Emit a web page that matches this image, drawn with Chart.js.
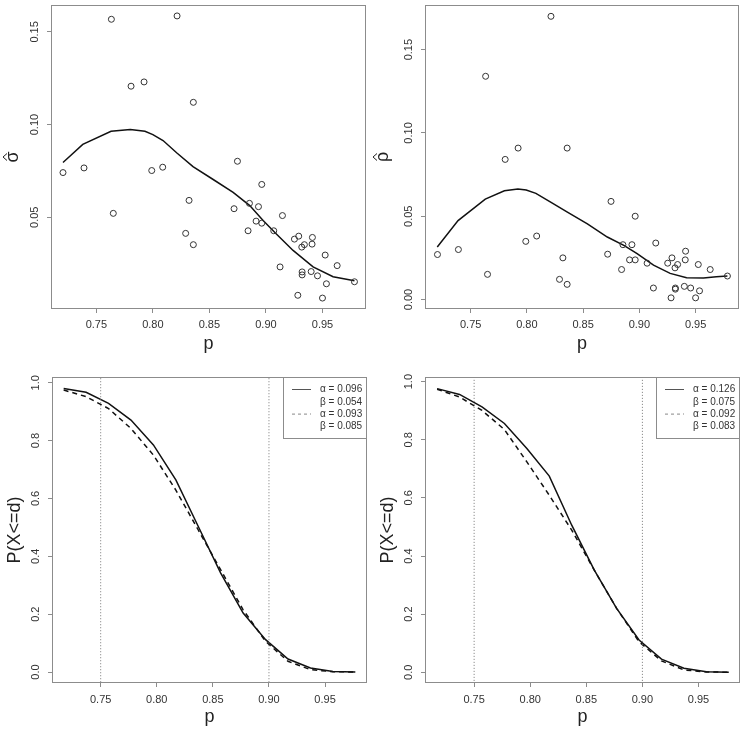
<!DOCTYPE html>
<html>
<head>
<meta charset="utf-8">
<script src="https://cdn.jsdelivr.net/npm/chart.js@4.4.1/dist/chart.umd.min.js"></script>
<style>
html, body { margin: 0; padding: 0; background: #fff; }
body { width: 744px; height: 729px; position: relative; overflow: hidden; }
canvas { position: absolute; }
</style>
</head>
<body>
<canvas id="c1" width="372" height="365" style="left:0px;top:0px;width:372px;height:365px"></canvas>
<canvas id="c2" width="372" height="365" style="left:372px;top:0px;width:372px;height:365px"></canvas>
<canvas id="c3" width="372" height="364" style="left:0px;top:365px;width:372px;height:364px"></canvas>
<canvas id="c4" width="372" height="364" style="left:372px;top:365px;width:372px;height:364px"></canvas>
<script>
// observed p and the two estimates
const pObs = [0.7205, 0.7391, 0.7633, 0.765, 0.7807, 0.7922, 0.799, 0.8087, 0.8214, 0.8358,
  0.832, 0.829, 0.8358, 0.8748, 0.8718, 0.8854, 0.8842, 0.8963, 0.8934, 0.8913,
  0.8963, 0.9069, 0.9146, 0.9125, 0.9252, 0.929, 0.9317, 0.934, 0.9411, 0.9408,
  0.932, 0.932, 0.94, 0.9456, 0.9524, 0.9535, 0.963, 0.9282, 0.95, 0.9783];
const sigmaHat = [0.0741, 0.0766, 0.1568, 0.0521, 0.1207, 0.1230, 0.0752, 0.0770, 0.1586, 0.1120,
  0.0591, 0.0413, 0.0352, 0.0802, 0.0546, 0.0575, 0.0427, 0.0677, 0.0557, 0.0479,
  0.0468, 0.0427, 0.0509, 0.0232, 0.0382, 0.0398, 0.0339, 0.0352, 0.0391, 0.0355,
  0.0205, 0.0189, 0.0207, 0.0184, 0.0296, 0.0141, 0.0239, 0.0079, 0.0064, 0.0152];
const rhoHat = [0.0270, 0.0300, 0.1340, 0.0151, 0.0841, 0.0909, 0.0349, 0.0381, 0.1700, 0.0909,
  0.0250, 0.0121, 0.0091, 0.0589, 0.0272, 0.0329, 0.0180, 0.0500, 0.0329, 0.0238,
  0.0238, 0.0218, 0.0339, 0.0069, 0.0218, 0.0250, 0.0190, 0.0210, 0.0290, 0.0238,
  0.0069, 0.0062, 0.0079, 0.0069, 0.0210, 0.0052, 0.0180, 0.0010, 0.0010, 0.0141];

// smoothed curves
const pSigmaFit = [0.7205, 0.738, 0.763, 0.780, 0.793, 0.800, 0.809, 0.821, 0.8355, 0.853, 0.871, 0.8857, 0.8975, 0.909, 0.924, 0.9417, 0.9594, 0.9783];
const sigmaFit = [0.0795, 0.0893, 0.0964, 0.0973, 0.0964, 0.0946, 0.0914, 0.0848, 0.0773, 0.0705, 0.0634, 0.0563, 0.0482, 0.0411, 0.0321, 0.0232, 0.0179, 0.0157];
const pRhoFit = [0.7203, 0.7388, 0.763, 0.780, 0.792, 0.7994, 0.808, 0.8215, 0.836, 0.8538, 0.8715, 0.8862, 0.898, 0.9126, 0.9274, 0.942, 0.957, 0.9685, 0.9783];
const rhoFit = [0.0315, 0.0474, 0.0603, 0.0653, 0.0663, 0.0657, 0.0637, 0.0583, 0.0524, 0.0454, 0.0375, 0.0325, 0.0276, 0.0206, 0.0157, 0.0131, 0.0129, 0.0137, 0.0141];

// operating characteristic curves
const pGrid = [0.717, 0.737, 0.757, 0.777, 0.797, 0.817, 0.837, 0.857, 0.877, 0.897, 0.917, 0.937, 0.957, 0.977];
const ocSolidL = [0.980, 0.967, 0.929, 0.871, 0.785, 0.664, 0.503, 0.342, 0.204, 0.112, 0.045, 0.014, 0.002, 0.000];
const ocDashL = [0.975, 0.952, 0.911, 0.842, 0.750, 0.629, 0.491, 0.353, 0.215, 0.106, 0.037, 0.008, 0.001, 0.000];
const ocSolidR = [0.976, 0.956, 0.913, 0.856, 0.770, 0.675, 0.506, 0.352, 0.220, 0.111, 0.045, 0.014, 0.002, 0.000];
const ocDashR = [0.974, 0.947, 0.901, 0.835, 0.724, 0.609, 0.489, 0.352, 0.220, 0.105, 0.039, 0.008, 0.001, 0.000];
const cutoffs = [0.75, 0.90];

const legendL = [['α = 0.096', 'β = 0.054'], ['α = 0.093', 'β = 0.085']];
const legendR = [['α = 0.126', 'β = 0.075'], ['α = 0.092', 'β = 0.083']];

// tick labels
const pTicks = [0.75, 0.80, 0.85, 0.90, 0.95];
const sigmaTicks = [0.05, 0.10, 0.15];
const rhoTicks = [0.00, 0.05, 0.10, 0.15];
const probTicks = [0.0, 0.2, 0.4, 0.6, 0.8, 1.0];

const FONT = "'Liberation Sans', Arial, sans-serif";
Chart.defaults.font.family = FONT;

function xy(xs, ys) {
  return xs.map((x, i) => ({ x: x, y: ys[i] }));
}

const decor = {
  id: 'decor',
  afterDraw(chart, args, opts) {
    const ctx = chart.ctx;
    const a = chart.chartArea;
    ctx.save();
    ctx.strokeStyle = '#8c8c8c';
    ctx.lineWidth = 1;
    ctx.strokeRect(a.left + 0.5, a.top + 0.5, a.right - a.left - 1, a.bottom - a.top - 1);

    // y tick labels, turned like R does
    const ys = chart.scales.y;
    ctx.fillStyle = '#333';
    ctx.font = '11px ' + FONT;
    ctx.textAlign = 'center';
    ctx.textBaseline = 'middle';
    ys.ticks.forEach(t => {
      ctx.save();
      ctx.translate(a.left - 16, ys.getPixelForValue(t.value));
      ctx.rotate(-Math.PI / 2);
      ctx.fillText(t.value.toFixed(opts.dec), 0, 0);
      ctx.restore();
    });

    // y title (hat drawn by hand for the estimates)
    ctx.save();
    ctx.fillStyle = '#222';
    ctx.strokeStyle = '#222';
    ctx.font = '18px ' + FONT;
    ctx.translate(a.left - opts.titleOff, (a.top + a.bottom) / 2);
    ctx.rotate(-Math.PI / 2);
    if (opts.hat) {
      ctx.textBaseline = 'alphabetic';
      ctx.fillText(opts.title, 0, 0);
      ctx.lineWidth = 1;
      ctx.beginPath();
      ctx.moveTo(-3.5, -11);
      ctx.lineTo(0, -15);
      ctx.lineTo(3.5, -11);
      ctx.stroke();
    } else {
      ctx.fillText(opts.title, 0, 0);
    }
    ctx.restore();

    if (opts.legend) {
      const w = 84, h = 62;
      const lx = a.right - w, ly = a.top;
      ctx.fillStyle = '#fff';
      ctx.fillRect(lx, ly, w, h);
      ctx.strokeStyle = '#8c8c8c';
      ctx.strokeRect(Math.round(lx) + 0.5, ly + 0.5, w - 1, h - 1);
      ctx.font = '10px ' + FONT;
      ctx.textAlign = 'left';
      ctx.fillStyle = '#333';
      const rows = [12.5, 24.8, 37.1, 49.4];
      opts.legend.forEach((lab, k) => {
        const y0 = ly + rows[k * 2];
        ctx.beginPath();
        ctx.strokeStyle = k === 0 ? '#555' : '#888';
        ctx.setLineDash(k === 0 ? [] : [3, 3]);
        ctx.moveTo(lx + 9, y0);
        ctx.lineTo(lx + 28, y0);
        ctx.stroke();
        ctx.setLineDash([]);
        ctx.fillText(lab[0], lx + 37, y0);
        ctx.fillText(lab[1], lx + 37, ly + rows[k * 2 + 1]);
      });
    }
    ctx.restore();
  }
};

function makeChart(id, o) {
  const ctx = document.getElementById(id).getContext('2d');
  const cfg = {
    type: 'scatter',
    data: { datasets: o.datasets },
    plugins: [decor],
    options: {
      responsive: false,
      animation: false,
      devicePixelRatio: 1,
      layout: { padding: { left: 0, top: o.padTop, right: o.padRight, bottom: 0 } },
      plugins: {
        legend: { display: false },
        tooltip: { enabled: false },
        decor: { dec: o.yDec, title: o.yTitle, hat: o.hat, titleOff: o.titleOff, legend: o.legend }
      },
      scales: {
        x: {
          type: 'linear',
          min: o.xMin, max: o.xMax,
          afterBuildTicks: s => { s.ticks = pTicks.map(v => ({ value: v })); },
          afterFit: s => { s.height = o.xHeight; },
          grid: { drawOnChartArea: false, drawTicks: true, tickLength: 4, color: '#8c8c8c' },
          border: { display: false },
          ticks: { padding: o.xPad, color: '#333', font: { size: 11 }, maxRotation: 0, autoSkip: false,
            callback: v => v.toFixed(2) },
          title: { display: true, text: 'p', color: '#222', font: { size: 18 }, padding: { top: 0, bottom: o.xTitlePad } }
        },
        y: {
          type: 'linear',
          min: o.yMin, max: o.yMax,
          afterBuildTicks: s => { s.ticks = o.yTicks.map(v => ({ value: v })); },
          afterFit: s => { s.width = o.yWidth; },
          grid: { drawOnChartArea: false, drawTicks: true, tickLength: 4, color: '#8c8c8c' },
          border: { display: false },
          ticks: { display: false }
        }
      }
    }
  };
  return new Chart(ctx, cfg);
}

function pointsSet(ys) {
  return { data: xy(pObs, ys), pointStyle: 'circle', pointRadius: 3, pointBackgroundColor: 'rgba(0,0,0,0)',
    pointBorderColor: '#333', pointBorderWidth: 1, showLine: false };
}
function lineSet(xs, ys, dash) {
  return { data: xy(xs, ys), showLine: true, pointRadius: 0, borderColor: '#111', borderWidth: 1.5,
    borderDash: dash || [], tension: 0 };
}
function cutSet(x) {
  return { data: [{ x: x, y: -1 }, { x: x, y: 2 }], showLine: true, pointRadius: 0, borderColor: '#777',
    borderWidth: 1, borderDash: [1, 2] };
}

function myLoadFunction() {
  makeChart('c1', {
    datasets: [pointsSet(sigmaHat), lineSet(pSigmaFit, sigmaFit)],
    xMin: 0.7099, xMax: 0.9885, yMin: 0.0005, yMax: 0.1645, yTicks: sigmaTicks, yDec: 2,
    padTop: 3, padRight: 6, yWidth: 51, xHeight: 56, xPad: 5, xTitlePad: 10,
    yTitle: 'σ', hat: true, titleOff: 33
  });
  makeChart('c2', {
    datasets: [pointsSet(rhoHat), lineSet(pRhoFit, rhoFit)],
    xMin: 0.7094, xMax: 0.9886, yMin: -0.0057, yMax: 0.1768, yTicks: rhoTicks, yDec: 2,
    padTop: 3, padRight: 4, yWidth: 53, xHeight: 56, xPad: 5, xTitlePad: 10,
    yTitle: 'ρ', hat: true, titleOff: 37
  });
  makeChart('c3', {
    datasets: [cutSet(cutoffs[0]), cutSet(cutoffs[1]), lineSet(pGrid, ocSolidL), lineSet(pGrid, ocDashL, [5, 4])],
    xMin: 0.7066, xMax: 0.9874, yMin: -0.038, yMax: 1.02, yTicks: probTicks, yDec: 1,
    padTop: 12, padRight: 5, yWidth: 52, xHeight: 46, xPad: 6, xTitlePad: 1,
    yTitle: 'P(X<=d)', titleOff: 37, legend: legendL
  });
  makeChart('c4', {
    datasets: [cutSet(cutoffs[0]), cutSet(cutoffs[1]), lineSet(pGrid, ocSolidR), lineSet(pGrid, ocDashR, [5, 4])],
    xMin: 0.7062, xMax: 0.9870, yMin: -0.037, yMax: 1.016, yTicks: probTicks, yDec: 1,
    padTop: 12, padRight: 4, yWidth: 53, xHeight: 46, xPad: 6, xTitlePad: 1,
    yTitle: 'P(X<=d)', titleOff: 37, legend: legendR
  });
}

document.addEventListener('DOMContentLoaded', myLoadFunction);
</script>
</body>
</html>
